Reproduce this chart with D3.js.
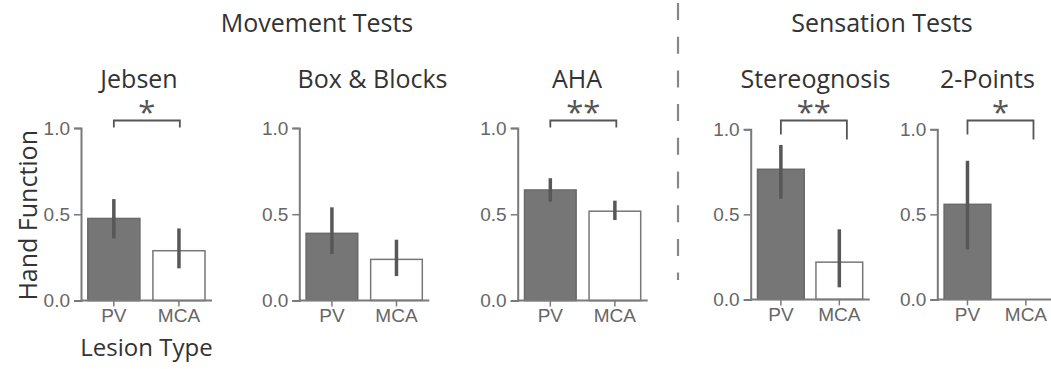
<!DOCTYPE html>
<html>
<head>
<meta charset="utf-8">
<script src="https://cdn.jsdelivr.net/npm/d3@7"></script>
<style>
  html, body { margin: 0; padding: 0; background: #fff; }
  svg { display: block; }
</style>
</head>
<body>
<svg id="chart" width="1051" height="369"></svg>
<script>
// ---- data ----
const groups = ["Movement Tests", "Sensation Tests"];
const tests = ["Jebsen", "Box & Blocks", "AHA", "Stereognosis", "2-Points"];
const lesionTypes = ["PV", "MCA"];
const pvMean = [0.476, 0.389, 0.641, 0.765, 0.559];
const pvLow  = [0.360, 0.269, 0.573, 0.592, 0.294];
const pvHigh = [0.588, 0.540, 0.709, 0.908, 0.815];
const mcaMean = [0.289, 0.238, 0.518, 0.219, 0.0];
const mcaLow  = [0.187, 0.141, 0.467, 0.071, null];
const mcaHigh = [0.418, 0.352, 0.579, 0.412, null];
const significance = ["*", "", "**", "**", "*"];
const yTicks = [0.0, 0.5, 1.0];

// ---- layout ----
const panelLayout = [
  { x: 81,    w: 131, yBottom: 300.6, yTop: 128,   titleX: 139,   legL: 7,  legR: 7 },
  { x: 299.3, w: 130, yBottom: 300.4, yTop: 128,   titleX: 372.5, legL: 7,  legR: 7 },
  { x: 517.7, w: 130, yBottom: 300.6, yTop: 128,   titleX: 577,   legL: 7,  legR: 7 },
  { x: 750.7, w: 119, yBottom: 299.4, yTop: 129.3, titleX: 815.5, legL: 14, legR: 19 },
  { x: 937.3, w: 119, yBottom: 299.4, yTop: 129.3, titleX: 987.5, legL: 14, legR: 19 }
];
const groupTitleX = [317, 882];
const bracketWidth = 66;
const bracketY = 120.5;

const titleFont = "'Open Sans', 'Noto Sans', sans-serif";
const tickFont = "'Liberation Sans Narrow', 'Liberation Sans', Arial, sans-serif";
const axisColor = "#7a7a7a";
const textDark = "#333";
const tickColor = "#666";

const svg = d3.select("#chart");

// group headings
svg.selectAll("text.group")
  .data(groups)
  .join("text")
  .attr("class", "group")
  .attr("x", (d, i) => groupTitleX[i])
  .attr("y", 32)
  .attr("text-anchor", "middle")
  .attr("font-family", titleFont)
  .attr("font-size", 25)
  .attr("fill", textDark)
  .text(d => d);

// dashed divider between movement and sensation tests
svg.append("line")
  .attr("x1", 678).attr("x2", 678)
  .attr("y1", 3).attr("y2", 280)
  .attr("stroke", "#888")
  .attr("stroke-width", 2.2)
  .attr("stroke-dasharray", "17 16.7");

tests.forEach((name, i) => {
  const L = panelLayout[i];
  const g = svg.append("g");

  const x = d3.scaleBand()
    .domain(lesionTypes)
    .range([L.x + 6.8, L.x + L.w - 7])
    .paddingInner(0.2)
    .paddingOuter(0);
  const y = d3.scaleLinear().domain([0, 1]).range([L.yBottom, L.yTop]);

  // test title
  g.append("text")
    .attr("x", L.titleX)
    .attr("y", 88)
    .attr("text-anchor", "middle")
    .attr("font-family", titleFont)
    .attr("font-size", 25)
    .attr("fill", textDark)
    .text(name);

  const rows = [
    { type: "PV",  mean: pvMean[i],  lo: pvLow[i],  hi: pvHigh[i] },
    { type: "MCA", mean: mcaMean[i], lo: mcaLow[i], hi: mcaHigh[i] }
  ];

  // bars
  g.selectAll("rect.bar")
    .data(rows.filter(r => r.mean > 0))
    .join("rect")
    .attr("class", "bar")
    .attr("x", d => x(d.type))
    .attr("width", x.bandwidth())
    .attr("y", d => y(d.mean))
    .attr("height", d => y(0) - y(d.mean))
    .attr("fill", d => d.type === "PV" ? "#767676" : "#fff")
    .attr("stroke", d => d.type === "PV" ? "#6a6a6a" : "#777")
    .attr("stroke-width", 1.5);

  // error bars
  g.selectAll("line.err")
    .data(rows.filter(r => r.lo != null))
    .join("line")
    .attr("class", "err")
    .attr("x1", d => x(d.type) + x.bandwidth() / 2)
    .attr("x2", d => x(d.type) + x.bandwidth() / 2)
    .attr("y1", d => y(d.lo))
    .attr("y2", d => y(d.hi))
    .attr("stroke", "#575757")
    .attr("stroke-width", 3.5);

  // axes
  const yAxis = d3.axisLeft(y).tickValues(yTicks).tickFormat(d3.format(".1f"))
    .tickSize(7).tickPadding(4);
  const ya = g.append("g").attr("transform", `translate(${L.x},0)`).call(yAxis);

  const xAxis = d3.axisBottom(x).tickSize(6).tickPadding(2);
  const xa = g.append("g").attr("transform", `translate(0,${L.yBottom})`).call(xAxis);
  xa.select(".domain").attr("d", `M${L.x},0H${L.x + L.w}`);

  [ya, xa].forEach(a => {
    a.select(".domain").attr("stroke", axisColor).attr("stroke-width", 2);
    a.selectAll(".tick line").attr("stroke", axisColor).attr("stroke-width", 1.5);
    a.selectAll(".tick text")
      .attr("fill", tickColor)
      .attr("font-family", tickFont)
      .attr("font-size", 19);
  });

  // significance bracket
  if (significance[i]) {
    const bx0 = x("PV") + x.bandwidth() / 2;
    const bx1 = bx0 + bracketWidth;
    g.append("path")
      .attr("d", `M${bx0},${bracketY + L.legL}V${bracketY}H${bx1}V${bracketY + L.legR}`)
      .attr("fill", "none")
      .attr("stroke", "#555")
      .attr("stroke-width", 1.8);
    g.append("text")
      .attr("x", (bx0 + bx1) / 2)
      .attr("y", 123)
      .attr("text-anchor", "middle")
      .attr("font-family", titleFont)
      .attr("font-size", 31)
      .attr("fill", "#555")
      .text(significance[i]);
  }
});

// axis titles on the first panel
const P0 = panelLayout[0];
svg.append("text")
  .attr("transform", `translate(37,${(P0.yBottom + P0.yTop) / 2 + 1}) rotate(-90)`)
  .attr("text-anchor", "middle")
  .attr("font-family", titleFont)
  .attr("font-size", 25)
  .attr("fill", textDark)
  .text("Hand Function");

svg.append("text")
  .attr("x", P0.x + P0.w / 2)
  .attr("y", 356)
  .attr("text-anchor", "middle")
  .attr("font-family", titleFont)
  .attr("font-size", 24)
  .attr("fill", textDark)
  .text("Lesion Type");
</script>
</body>
</html>
